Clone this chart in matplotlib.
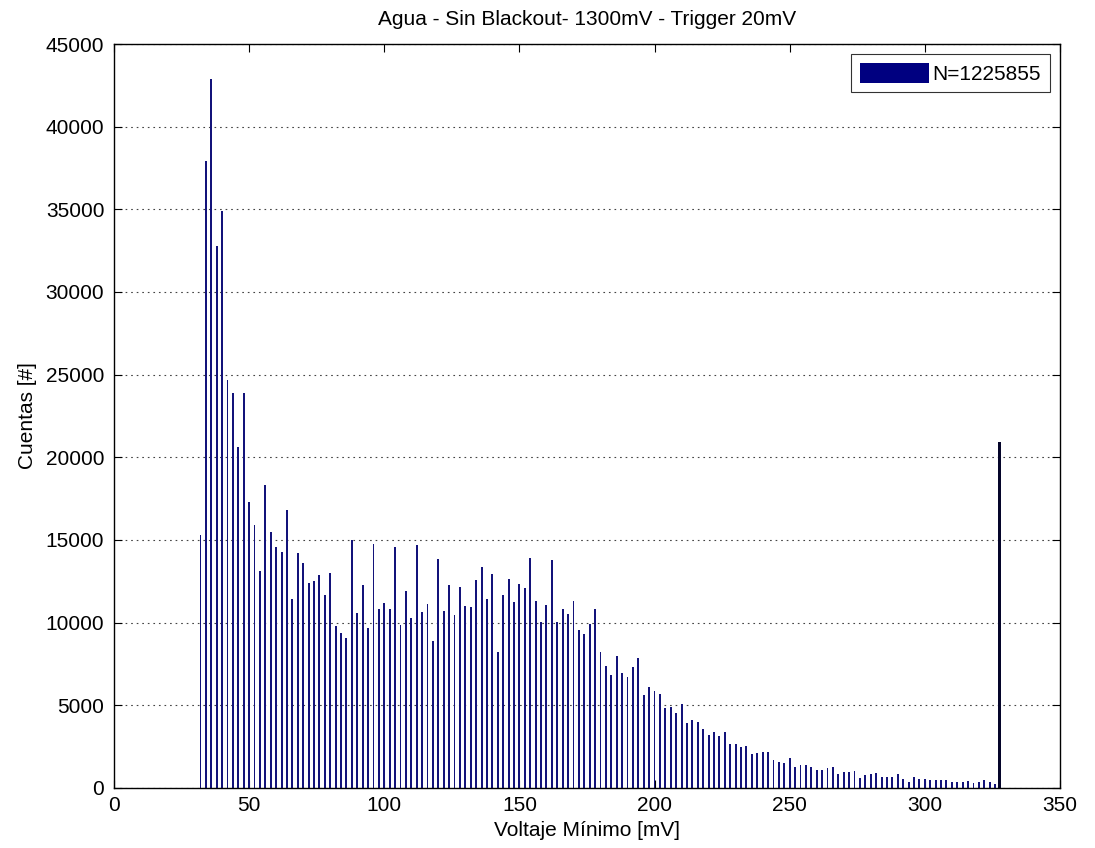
import matplotlib.pyplot as plt
import numpy as np

plt.rcParams["font.family"] = ["Liberation Sans", "DejaVu Sans"]

# bin centres [mV] (2 mV bins) and counts
bin_centres = np.arange(32, 328, 2)
counts = [
    15300, 37900, 42900, 32800, 34900, 24700, 23900, 20600, 23900, 17300,
    15900, 13100, 18300, 15500, 14600, 14300, 16800, 11400, 14200, 13600,
    12400, 12500, 12900, 11700, 13000, 9800, 9350, 9100, 15000, 10600,
    12250, 9700, 14750, 10800, 11200, 10800, 14600, 9860, 11930, 10260,
    14680, 10660, 11150, 8890, 13850, 10690, 12260, 10480, 12140, 11010,
    10970, 12580, 13390, 11430, 12940, 8240, 11670, 12640, 11230, 12320,
    12110, 13890, 11310, 10060, 11090, 13810, 10060, 10830, 10500, 11290,
    9560, 9310, 9920, 10810, 8240, 7380, 6850, 8000, 6940, 6710,
    7340, 7840, 5620, 6110, 5890, 5670, 4860, 4880, 4520, 5080,
    3910, 4110, 3970, 3570, 3210, 3370, 3140, 3370, 2660, 2640,
    2480, 2520, 2060, 2140, 2160, 2200, 1670, 1590, 1490, 1790,
    1290, 1390, 1410, 1290, 1090, 1070, 1190, 1250, 870, 970,
    950, 1050, 620, 800, 870, 930, 640, 660, 680, 840,
    540, 380, 660, 560, 540, 500, 500, 500, 480, 360,
    360, 360, 420, 300, 360, 500, 360, 240,
]
# overflow bin at the end of the range
overflow_centre = 327.5
overflow_count = 20900

total = 1225855
title = "Agua - Sin Blackout- 1300mV - Trigger 20mV"

fig = plt.figure(figsize=(10.95, 8.48), dpi=100)
ax = fig.add_axes([0.1041, 0.0708, 0.8639, 0.8773])

ax.bar(bin_centres, counts, width=0.7, color="#13137a", linewidth=0,
       label=f"N={total}")
ax.bar([overflow_centre], [overflow_count], width=1.1, color="#05052a",
       linewidth=0)

ax.set_xlim(0, 350)
ax.set_ylim(0, 45000)
ax.set_xticks(np.arange(0, 351, 50))
ax.set_yticks(np.arange(0, 45001, 5000))
ax.yaxis.grid(True, linestyle=(0, (1.5, 3.5)), color="#444444", linewidth=0.8)
ax.set_axisbelow(True)
ax.tick_params(direction="in", top=True, right=True, labelsize=15, length=6)
ax.tick_params(axis="x", pad=6)
ax.tick_params(axis="y", pad=7)
for s in ax.spines.values():
    s.set_linewidth(1.0)

ax.set_title(title, fontsize=15, pad=14)
ax.set_xlabel("Voltaje Mínimo [mV]", fontsize=15, labelpad=4)
ax.set_ylabel("Cuentas [#]", fontsize=15, labelpad=6)

leg = ax.legend(loc="upper right", fontsize=15, handlelength=3.3,
                handleheight=1.1, fancybox=False, edgecolor="black",
                borderaxespad=0.5, handletextpad=0.2)
leg.legend_handles[0].set_color("#000080")
leg.get_frame().set_linewidth(0.8)

fig.savefig("out.png", dpi=100)
